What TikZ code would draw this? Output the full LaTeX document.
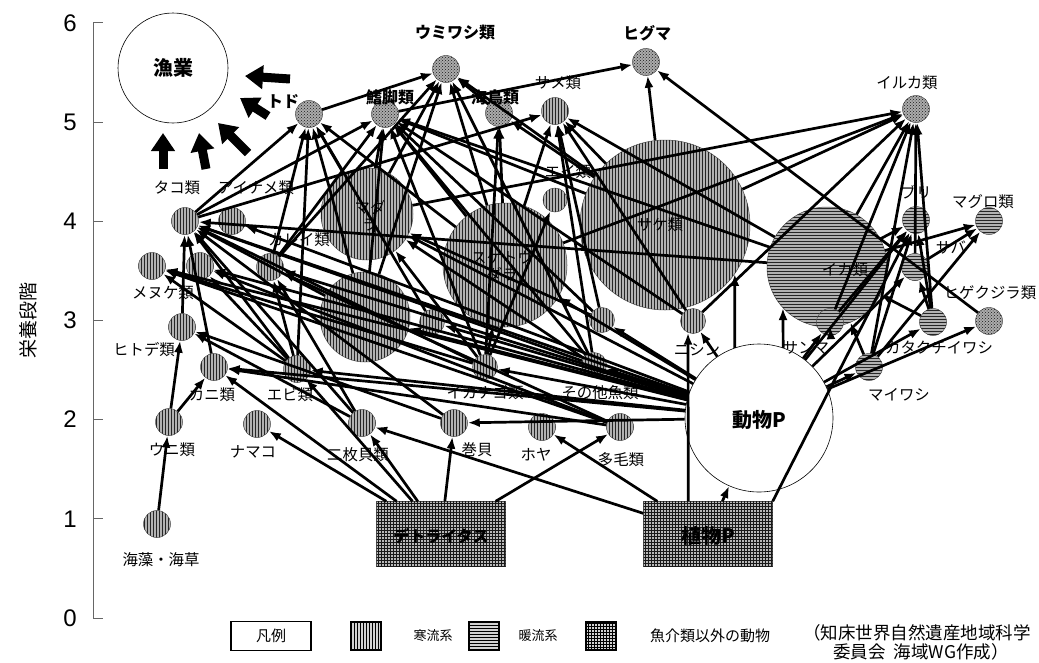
\documentclass[tikz,border=0pt]{standalone}
\usepackage{fontspec}
\setmainfont{Liberation Sans}
\newfontfamily\jp{Noto Sans CJK JP}
\usetikzlibrary{arrows.meta,patterns}
\begin{document}
\begin{tikzpicture}[x=1pt,y=-1pt,
  sp/.style={circle, inner sep=0pt, minimum size=27pt, draw=black!70, line width=0.5pt},
  cold/.style={sp, fill=gray!60, postaction={pattern=vertical lines, pattern color=black!85}},
  warm/.style={sp, fill=gray!60, postaction={pattern=horizontal lines, pattern color=black!85}},
  oth/.style={sp, fill=gray!65, postaction={pattern=crosshatch dots, pattern color=black!90}},
  wcirc/.style={circle, inner sep=0pt, draw=black, line width=0.6pt, fill=white},
  src/.style={rectangle, inner sep=0pt, minimum width=129pt, minimum height=65pt, draw=black!70, fill=gray!55, postaction={pattern=grid, pattern color=black!90}},
  lab/.style={font=\jp\fontsize{15.4}{17}\selectfont, inner sep=0pt, align=center},
  blab/.style={font=\jp\bfseries\fontsize{16}{18}\selectfont, inner sep=0pt},
  big/.style={font=\jp\bfseries\fontsize{20}{22}\selectfont, inner sep=0pt},
  ed/.style={-{Latex[length=12pt,width=9pt]}, line width=2.7pt, black},
  fat/.style={-{Triangle[length=18pt,width=23pt]}, line width=9pt, black},
  legtxt/.style={font=\jp\fontsize{13}{15}\selectfont, inner sep=0pt},
  legsq/.style={rectangle, draw=black, line width=1.5pt, minimum width=30pt, minimum height=28pt, inner sep=0pt, fill=gray!35},
]
\useasboundingbox (0,0) rectangle (1039,662);
% axis
\draw[black!60, line width=0.8pt] (93,23) -- (93,618);
\foreach \v in {0,...,6}{
  \draw[black!60, line width=0.8pt] (93,618-99.2*\v) -- (103,618-99.2*\v);
  \node[font=\fontsize{24}{26}\selectfont, inner sep=0pt] at (70,618-99.2*\v) {\v};
}
\node[font=\jp\fontsize{19}{20}\selectfont, rotate=90, inner sep=0pt] (ylab) at (28,320) {栄養段階};

% big circles
\node[wcirc, minimum size=110pt] (gyo) at (173,68) {};
\node[big] at (173,68) {漁業};
\node[cold, minimum size=92pt] (madara) at (367,214) {};
\node[cold, minimum size=90pt] (big2) at (365,317) {};
\node[cold, minimum size=124pt] (suketo) at (505,265) {};
\node[cold, minimum size=170pt] (sake) at (665,225) {};
\node[warm, minimum size=120pt] (ika) at (827,267) {};
\node[wcirc, minimum size=148pt] (doubutsu) at (759,418) {};
\node[big] at (759,420) {動物P};
\node[src] (detritus) at (441,534) {};
\node[src] (shokubutsu) at (708,534) {};
\node[blab] at (441,536) {デトライタス};
\node[big] at (708,536) {植物P};

% small circles
\node[oth] (todo) at (309,114) {};
\node[oth] (kikyaku) at (385,114) {};
\node[oth] (umiwashi) at (446,69) {};
\node[oth] (kaicho) at (499,113) {};
\node[cold] (same) at (555,111) {};
\node[oth] (higuma) at (646,62) {};
\node[oth] (iruka) at (916,109) {};
\node[cold] (tako) at (185,221) {};
\node[cold] (ainame) at (232,221) {};
\node[cold, minimum size=24pt] (ei) at (555,200) {};
\node[warm] (buri) at (916,220) {};
\node[warm] (maguro) at (989,221) {};
\node[warm] (saba) at (915,267) {};
\node[oth] (higekujira) at (989,321) {};
\node[warm] (katakuchi) at (933,322) {};
\node[warm] (maiwashi) at (869,367) {};
\node[warm] (sanma) at (830,322) {};
\node[cold, minimum size=25pt] (nishin) at (693,321) {};
\node[cold, minimum size=25pt] (hatahata) at (602,320) {};
\node[cold, minimum size=25pt] (sonota) at (594,365) {};
\node[cold, minimum size=25pt] (ikanago) at (485,367) {};
\node[cold, minimum size=25pt] (sm432) at (432,322) {};
\node[cold] (ebi) at (297,369) {};
\node[cold] (kani) at (214,367) {};
\node[cold] (hitode) at (182,327) {};
\node[cold] (menuke) at (152,266) {};
\node[cold] (c200) at (200,266) {};
\node[cold] (kajika) at (270,267) {};
\node[cold] (uni) at (169,422) {};
\node[cold] (namako) at (257,424) {};
\node[cold] (nimai) at (362,423) {};
\node[cold] (makigai) at (454,423) {};
\node[cold] (hoya) at (542,427) {};
\node[cold] (tamou) at (620,427) {};
\node[cold] (kaiso) at (157,524) {};

% labels
\node[blab] at (283,102) {トド};
\node[blab] at (390,97) {鰭脚類};
\node[blab] at (455,33) {ウミワシ類};
\node[blab] at (495,97) {海鳥類};
\node[lab] at (558,83) {サメ類};
\node[blab] at (647,33) {ヒグマ};
\node[lab] at (907,83) {イルカ類};
\node[lab] at (177,188) {タコ類};
\node[lab] at (256,188) {アイナメ類};
\node[lab] at (370,216) {マダ\\ラ};
\node[lab] at (502,266) {スケトウ\\ダラ};
\node[lab] at (660,225) {サケ類};
\node[lab] at (845,270) {イカ類};
\node[lab] at (568,172) {エイ類};
\node[lab] at (916,192) {ブリ};
\node[lab] at (983,202) {マグロ類};
\node[lab] at (951,248) {サバ};
\node[lab] at (990,293) {ヒゲクジラ類};
\node[lab] at (939,348) {カタクチイワシ};
\node[lab] at (899,395) {マイワシ};
\node[lab] at (806,348) {サンマ};
\node[lab] at (697,350) {ニシン};
\node[lab] at (600,393) {その他魚類};
\node[lab] at (485,393) {イカナゴ類};
\node[lab] at (290,395) {エビ類};
\node[lab] at (212,395) {カニ類};
\node[lab] at (144,350) {ヒトデ類};
\node[lab] at (163,293) {メヌケ類};
\node[lab] at (299,240) {カレイ類};
\node[lab] at (172,450) {ウニ類};
\node[lab] at (253,452) {ナマコ};
\node[lab] at (358,455) {二枚貝類};
\node[lab] at (477,450) {巻貝};
\node[lab] at (536,455) {ホヤ};
\node[lab] at (621,460) {多毛類};
\node[lab] at (161,560) {海藻・海草};

% edges
\foreach \a/\b in {kaiso/uni, uni/kani, uni/hitode, hitode/tako,
 detritus/namako, detritus/kani, detritus/ebi, detritus/nimai, detritus/makigai, detritus/tamou,
 shokubutsu/nimai, shokubutsu/hoya, shokubutsu/doubutsu,
 doubutsu/tako, doubutsu/menuke, doubutsu/c200, doubutsu/kajika, doubutsu/ainame, doubutsu/madara,
 doubutsu/big2, doubutsu/suketo, doubutsu/ikanago, doubutsu/sonota, doubutsu/hatahata, doubutsu/sm432,
 doubutsu/ebi, doubutsu/kani, doubutsu/makigai, doubutsu/nishin, doubutsu/sanma,
 doubutsu/maiwashi, doubutsu/katakuchi, doubutsu/higekujira, doubutsu/buri, doubutsu/saba,
 kani/tako, ebi/tako, ebi/menuke, ebi/c200, ebi/kajika, nimai/tako, nimai/hitode, nimai/kajika,
 makigai/tako, makigai/hitode, tamou/menuke, tamou/c200, tamou/kajika, tamou/kani, ebi/todo,
 ikanago/madara, ikanago/kaicho, ikanago/kikyaku, ikanago/suketo, ikanago/menuke, ikanago/ei, ikanago/tako,
 sonota/madara, sonota/kikyaku, sonota/umiwashi, sonota/same, sonota/tako,
 hatahata/madara, hatahata/same, hatahata/kikyaku, sm432/todo,
 nishin/kikyaku, nishin/iruka, nishin/same,
 suketo/kikyaku, suketo/todo, suketo/umiwashi, suketo/same, suketo/iruka, suketo/kaicho,
 madara/kikyaku, madara/todo, madara/umiwashi, madara/iruka,
 big2/todo, big2/kikyaku, big2/umiwashi, big2/tako,
 sake/higuma, sake/same, sake/kikyaku, sake/umiwashi, sake/iruka, sake/kaicho,
 ika/iruka, ika/maguro, ika/same, ika/kikyaku, ika/buri, ika/tako,
 kajika/todo, kajika/kikyaku, kajika/umiwashi,
 tako/todo, tako/kikyaku, tako/same,
 kaicho/umiwashi, todo/umiwashi, kikyaku/higuma,
 maiwashi/buri, maiwashi/iruka, maiwashi/maguro, maiwashi/ika,
 katakuchi/buri, katakuchi/iruka, katakuchi/ika, katakuchi/saba,
 sanma/buri, sanma/iruka, sanma/ika, saba/maguro, saba/iruka, higekujira/higuma}
 {\draw[ed] (\a) -- (\b);}
% edges with fixed attachment points
\draw[ed] ([xshift=45pt]shokubutsu.north west) -- (nishin.247);
\draw[ed] (shokubutsu.north east) -- (buri);
\draw[ed] (doubutsu.109) -- (sake.325);
\draw[ed] (doubutsu.71) -- (ika.223);

% fisheries arrows
\coordinate (f1s) at (290,79); \coordinate (f1e) at (245,76);
\coordinate (f2s) at (268,116); \coordinate (f2e) at (240,98);
\coordinate (f3s) at (248,153); \coordinate (f3e) at (218,123);
\coordinate (f4s) at (206,169); \coordinate (f4e) at (199,133);
\coordinate (f5s) at (163,169); \coordinate (f5e) at (163,133);
\foreach \i in {1,...,5}{\draw[fat] (f\i s) -- (f\i e);}

% legend
\node[draw=black, line width=1.6pt, minimum width=80pt, minimum height=29pt, inner sep=0pt, font=\jp\fontsize{15}{17}\selectfont] (leg) at (271,636) {凡例};
\node[legsq, postaction={pattern=vertical lines}] (lg1) at (366,636) {};
\node[legtxt] at (433,636) {寒流系};
\node[legsq, postaction={pattern=horizontal lines}] (lg2) at (484,636) {};
\node[legtxt] at (538,636) {暖流系};
\node[legsq, postaction={pattern=grid}] (lg3) at (601,636) {};
\node[legtxt, font=\jp\fontsize{15}{17}\selectfont] at (710,636) {魚介類以外の動物};
\node[font=\jp\fontsize{17.5}{19}\selectfont, inner sep=0pt] at (917,633) {（知床世界自然遺産地域科学};
\node[font=\jp\fontsize{17.5}{19}\selectfont, inner sep=0pt] at (921,652) {委員会\ \ 海域WG作成）};
\end{tikzpicture}
\end{document}
